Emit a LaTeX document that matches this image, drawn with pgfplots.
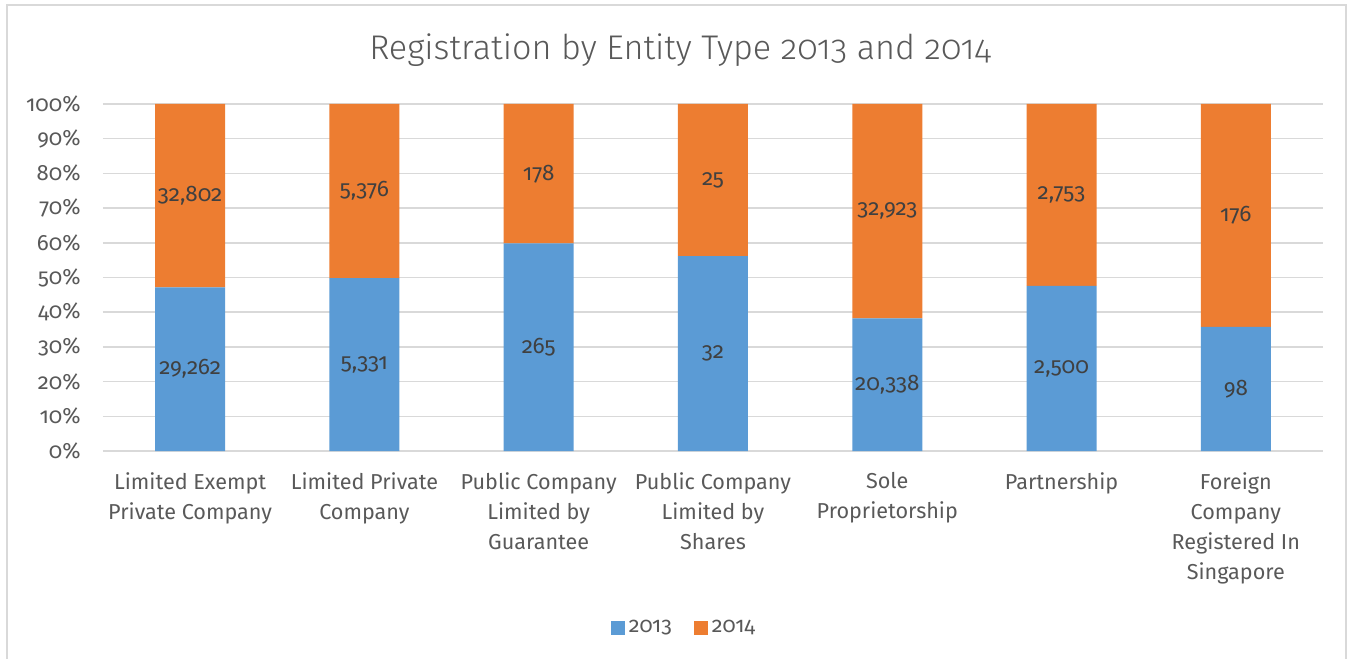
\documentclass[border=0pt]{standalone}
\usepackage{fontspec}
\setmainfont{Fira Sans}[Numbers=OldStyle, Scale=0.9]
\newfontfamily\titlefont{Fira Sans}[UprightFont=* Light, Numbers=OldStyle, Scale=0.9]
\usepackage{pgfplots}
\usepackage{pgfplotstable}
\pgfplotsset{compat=1.18}
\definecolor{c13}{HTML}{5B9BD5}
\definecolor{c14}{HTML}{ED7D31}
\definecolor{txt}{HTML}{595959}
\definecolor{lbl}{HTML}{404040}
\definecolor{grd}{HTML}{D9D9D9}

% x, share 2013 / 2014 (%), segment middles, counts
\pgfplotstableread{
x  p13    p14    m13    m14    n13    n14
0  47.15  52.85  23.57  73.57  29262  32802
1  49.79  50.21  24.90  74.90  5331   5376
2  59.82  40.18  29.91  79.91  265    178
3  56.14  43.86  28.07  78.07  32     25
4  38.19  61.81  19.09  69.09  20338  32923
5  47.59  52.41  23.80  73.80  2500   2753
6  35.77  64.23  17.88  67.88  98     176
}\shares

\begin{document}
\begin{tikzpicture}
\useasboundingbox (-51.5pt,-103.5pt) rectangle (625pt,225.5pt);
\draw[grd, line width=1pt] (-48pt,-120pt) rectangle (621.5pt,223pt);
\node[text=txt, font=\titlefont\fontsize{19}{22}\selectfont] at (288.5pt,200.5pt) {Registration by Entity Type 2013 and 2014};
\begin{axis}[
  at={(0,0)}, anchor=south west,
  scale only axis,
  width=610pt, height=173.5pt,
  ybar stacked, bar width=35pt,
  xmin=-0.5, xmax=6.5,
  ymin=0, ymax=100,
  axis line style={draw=none},
  ymajorgrids, grid style={grd, line width=0.8pt},
  ytick={0,10,...,100},
  xtick={0,...,6},
  major tick length=0pt,
  /pgf/number format/assume math mode=true,
  yticklabel={\pgfmathprintnumber{\tick}\%},
  yticklabel style={anchor=east, xshift=-8pt, font=\fontsize{12.3}{14}\selectfont, text=txt},
  xticklabels={{Limited Exempt\\Private Company},{Limited Private\\Company},{Public Company\\Limited by\\Guarantee},{Public Company\\Limited by\\Shares},{Sole\\Proprietorship},{Partnership},{Foreign\\Company\\Registered In\\Singapore}},
  xticklabel style={align=center, anchor=north, yshift=-7.5pt, font=\fontsize{12}{15}\selectfont, text=txt},
  legend style={at={(0.477,-0.51)}, anchor=center, draw=none, legend columns=-1,
    font=\fontsize{12}{14}\selectfont, text=txt,
    /tikz/every even column/.append style={column sep=9pt}},
  legend image code/.code={\fill[#1] (0pt,-3.5pt) rectangle (7pt,3.5pt);},
]
\addplot[fill=c13, draw=none] table[x=x, y=p13] {\shares};
\addplot[fill=c14, draw=none] table[x=x, y=p14] {\shares};
\legend{2013,2014}
\end{axis}
\begin{axis}[
  at={(0,0)}, anchor=south west,
  scale only axis,
  width=610pt, height=173.5pt,
  xmin=-0.5, xmax=6.5,
  ymin=0, ymax=100,
  hide axis,
  nodes near coords={\pgfmathprintnumber[1000 sep={,}, assume math mode=true]{\pgfplotspointmeta}},
  every node near coord/.append style={anchor=center, font=\fontsize{12.5}{14}\selectfont, text=lbl},
  point meta=explicit,
]
\addplot[only marks, mark=none] table[x=x, y=m13, meta=n13] {\shares};
\addplot[only marks, mark=none] table[x=x, y=m14, meta=n14] {\shares};
\end{axis}
\end{tikzpicture}
\end{document}
